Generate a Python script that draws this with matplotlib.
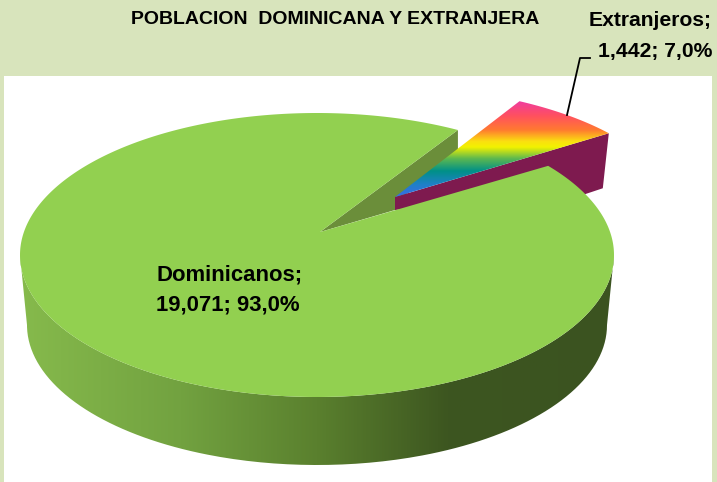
import numpy as np
import matplotlib
matplotlib.use("Agg")
import matplotlib.pyplot as plt
from matplotlib.colors import LinearSegmentedColormap
from matplotlib.patches import PathPatch, Polygon, Rectangle
from matplotlib.path import Path

# Datos
categories = ["Dominicanos", "Extranjeros"]
values = [19071, 1442]
title = "POBLACION  DOMINICANA Y EXTRANJERA"

FONT = ["Liberation Sans", "DejaVu Sans"]

# Geometria del pastel (pixeles de la imagen)
CX, CY, RX, RY = 317, 255, 297, 142
APEX = (320, 232)
START = 38.9
PERSPECTIVE = 0.9  # el hueco se ve mas estrecho por la inclinacion
SLICE_C = (380, 213)
SLICE_RX, SLICE_RY = 294, 127
SLICE_APEX = (395, 197)


def ellipse(cx, cy, rx, ry, a0, a1, n=200):
    t = np.radians(np.linspace(a0, a1, n))
    return np.column_stack([cx + rx * np.cos(t), cy - ry * np.sin(t)])


def label(name, val, pct):
    return f"{name};\n{val:,}; {pct:.1f}%".replace(".", ",")


total = sum(values)
shares = [v / total for v in values]
sweep = 360 * shares[1] * PERSPECTIVE
end = START + sweep

fig = plt.figure(figsize=(7.17, 4.82), dpi=100, facecolor="#D8E4BC")
ax = fig.add_axes([0, 0, 1, 1])
ax.set_xlim(0, 717)
ax.set_ylim(482, 0)
ax.axis("off")

ax.add_patch(Rectangle((4, 76), 708, 406, facecolor="white", edgecolor="none", zorder=1))

# Pared exterior del pastel
top_front = ellipse(CX, CY, RX, RY, 180, 360)
low_front = ellipse(CX, 325, 290, 140, 360, 180)
side_path = Path(np.vstack([top_front, low_front, top_front[:1]]))
side_cmap = LinearSegmentedColormap.from_list(
    "side", [(0, "#86BA4C"), (0.27, "#72A240"), (0.5, "#5A802E"), (0.72, "#3D5620"), (1, "#3B5320")]
)
im = ax.imshow(
    np.linspace(0, 1, 256).reshape(1, -1), extent=(20, 614, 470, 250),
    cmap=side_cmap, aspect="auto", zorder=2,
)
im.set_clip_path(PathPatch(side_path, transform=ax.transData))

# Pared interior del hueco (el borde inferior queda tapado por la porcion)
notch = ellipse(CX, CY, RX, RY, end, end, 1)[0]
ax.add_patch(Polygon(
    [APEX, notch, (notch[0], notch[1] + 30), (SLICE_APEX[0] + 4, SLICE_APEX[1] + 2),
     (SLICE_APEX[0], SLICE_APEX[1] + 13)],
    facecolor="#6B8E3A", edgecolor="none", zorder=3,
))

# Porcion separada
arc = ellipse(*SLICE_C, SLICE_RX, SLICE_RY, START, end, 60)
ax.add_patch(Polygon(
    [SLICE_APEX, arc[0], (arc[0][0] - 6, arc[0][1] + 55), (arc[0][0] - 24, arc[0][1] + 61),
     (SLICE_APEX[0], SLICE_APEX[1] + 13)],
    facecolor="#7E1A4F", edgecolor="none", zorder=3,
))
slice_path = Path(np.vstack([[SLICE_APEX], arc, [SLICE_APEX]]))
rainbow = LinearSegmentedColormap.from_list(
    "rainbow_fill",
    [(0, "#F03CA0"), (0.15, "#FF5060"), (0.3, "#FF7A30"), (0.42, "#FBE010"), (0.48, "#F2F200"),
     (0.6, "#5CB850"), (0.73, "#009088"), (0.87, "#1F80C8"), (1, "#3A6CE8")],
)
im2 = ax.imshow(
    np.linspace(0, 1, 256).reshape(-1, 1), extent=(390, 615, 197, 101),
    cmap=rainbow, aspect="auto", zorder=4,
)
im2.set_clip_path(PathPatch(slice_path, transform=ax.transData))

# Cara superior
main_top = ellipse(CX, CY, RX, RY, end, START + 360, 500)
ax.add_patch(Polygon(np.vstack([[APEX], main_top]), facecolor="#92D050", edgecolor="none", zorder=5))
ax.set_xlim(0, 717)
ax.set_ylim(482, 0)

# Linea guia
ax.plot([590, 580, 567], [58, 58, 115], color="black", lw=1.3, zorder=6)

# Textos
ax.text(335, 20, title, ha="center", va="center", fontsize=14, fontweight="bold",
        family=FONT, zorder=7)
ax.text(712, 36, label(categories[1], values[1], shares[1] * 100), ha="right", va="center",
        fontsize=15.2, fontweight="bold", family=FONT, linespacing=1.75, multialignment="right", zorder=7)
ax.text(156, 290, label(categories[0], values[0], shares[0] * 100), ha="left", va="center",
        fontsize=15.9, fontweight="bold", family=FONT, linespacing=1.6, zorder=7)

fig.savefig("out.png", dpi=100, facecolor=fig.get_facecolor())
